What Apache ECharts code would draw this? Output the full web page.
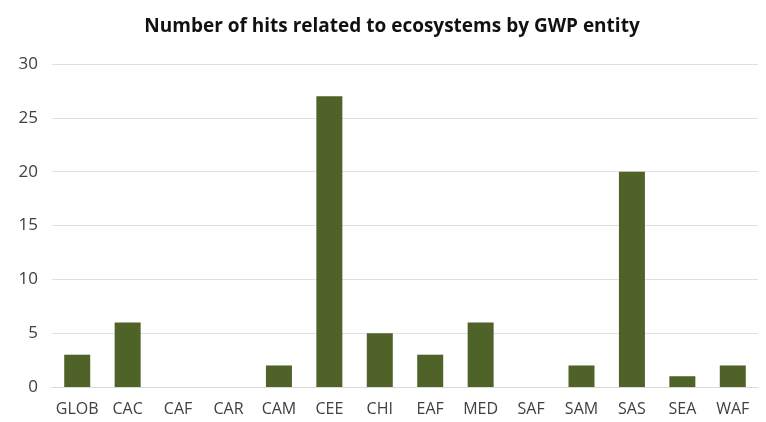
<!DOCTYPE html>
<html><head><meta charset="utf-8">
<script src="https://cdn.jsdelivr.net/npm/echarts@6/dist/echarts.min.js"></script>
<style>html,body{margin:0;padding:0;background:#fff}#c{width:766px;height:422px}</style>
</head><body><div id="c"></div>
<script>
const categories = ['GLOB','CAC','CAF','CAR','CAM','CEE','CHI','EAF','MED','SAF','SAM','SAS','SEA','WAF'];
const hits = [3,6,0,0,2,27,5,3,6,0,2,20,1,2];
const yTicks = [0,5,10,15,20,25,30];

const chart = echarts.init(document.getElementById('c'));
chart.setOption({
  animation:false,
  title:{text:'Number of hits related to ecosystems by GWP entity',left:387,top:12,textAlign:'center',
    textStyle:{fontFamily:'Open Sans',fontSize:19,fontWeight:'bold',color:'#111'}},
  grid:{left:52,right:8,top:64,bottom:35},
  xAxis:{type:'category',data:categories,axisTick:{show:false},
    axisLine:{lineStyle:{color:'#d9d9d9'}},
    axisLabel:{interval:0,fontFamily:'Open Sans',fontSize:16,color:'#404040',margin:14}},
  yAxis:{type:'value',min:yTicks[0],max:yTicks[yTicks.length-1],interval:5,
    axisLine:{show:false},axisTick:{show:false},
    splitLine:{lineStyle:{color:'#e0e0e0'}},
    axisLabel:{fontFamily:'Open Sans',fontSize:17,color:'#404040',margin:14}},
  series:[{type:'bar',data:hits,barWidth:26,itemStyle:{color:'#4F6228'}}]
});
</script></body></html>
